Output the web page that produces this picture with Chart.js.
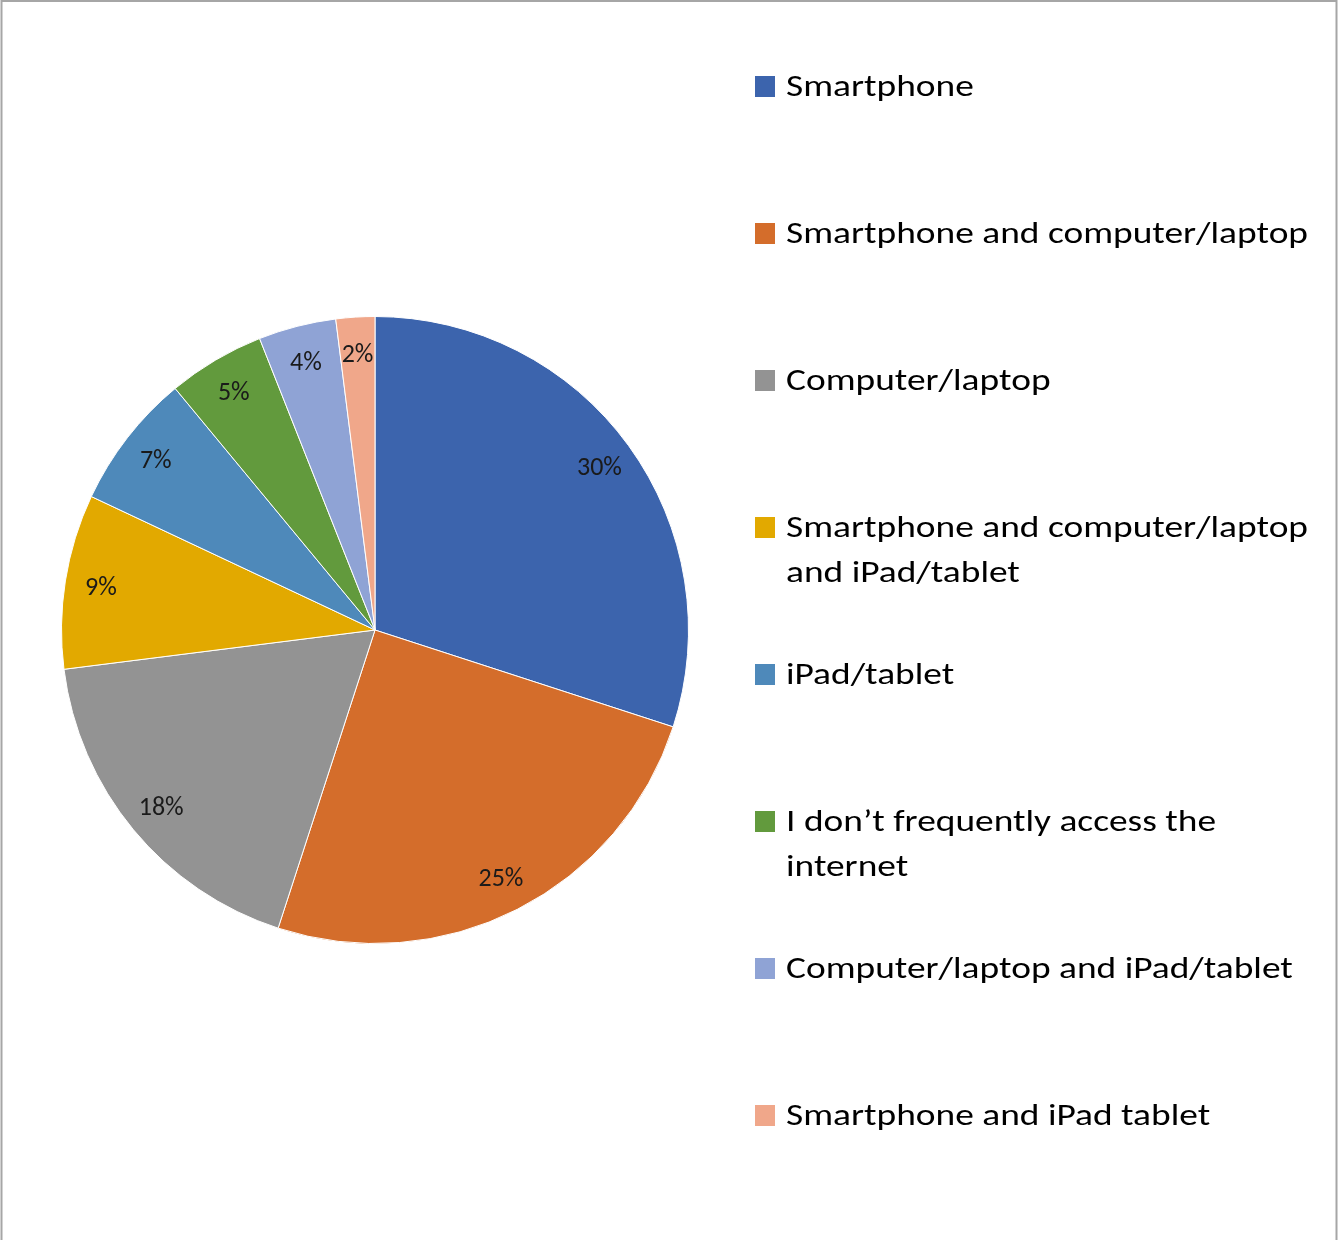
<!DOCTYPE html>
<html>
<head>
<meta charset="utf-8">
<script src="https://cdn.jsdelivr.net/npm/chart.js@4"></script>
<style>
  html, body { margin: 0; padding: 0; background: #fff; }
  #wrap { width: 1338px; height: 1240px; position: relative; }
</style>
</head>
<body>
<div id="wrap"><canvas id="chart" width="1338" height="1240"></canvas></div>
<script>
const labels = [
  "Smartphone",
  "Smartphone and computer/laptop",
  "Computer/laptop",
  "Smartphone and computer/laptop and iPad/tablet",
  "iPad/tablet",
  "I don\u2019t frequently access the internet",
  "Computer/laptop and iPad/tablet",
  "Smartphone and iPad tablet",
];
// legend lines as they wrap in the picture
const legendLines = [
  ["Smartphone"],
  ["Smartphone and computer/laptop"],
  ["Computer/laptop"],
  ["Smartphone and computer/laptop", "and iPad/tablet"],
  ["iPad/tablet"],
  ["I don\u2019t frequently access the", "internet"],
  ["Computer/laptop and iPad/tablet"],
  ["Smartphone and iPad tablet"],
];
const values = [30, 25, 18, 9, 7, 5, 4, 2];
const colors = ["#3c64ad", "#d46d2b", "#939393", "#e2a900", "#4e89ba", "#629a3d", "#8fa3d5", "#f0a78a"];

const FONT = "Carlito, Calibri, Lato, 'Open Sans', sans-serif";

const frame = {
  id: "frame",
  beforeDraw(chart) {
    const c = chart.ctx;
    c.save();
    c.fillStyle = "#fff";
    c.fillRect(0, 0, chart.width, chart.height);
    c.strokeStyle = "#a6a6a6";
    c.lineWidth = 2;
    c.beginPath();
    c.moveTo(1.5, 1240);
    c.lineTo(1.5, 1);
    c.lineTo(1336.5, 1);
    c.lineTo(1336.5, 1240);
    c.stroke();
    c.restore();
  },
};

const sliceLabels = {
  id: "sliceLabels",
  afterDatasetsDraw(chart) {
    const c = chart.ctx;
    const meta = chart.getDatasetMeta(0);
    c.save();
    c.font = "26px " + FONT;
    c.fillStyle = "#1a1a1a";
    c.textAlign = "center";
    c.textBaseline = "middle";
    meta.data.forEach((arc, i) => {
      const p = arc.getProps(["x", "y", "startAngle", "endAngle", "outerRadius"], true);
      const mid = (p.startAngle + p.endAngle) / 2;
      const r = p.outerRadius * 0.885;
      c.fillText(values[i] + "%", p.x + Math.cos(mid) * r, p.y + Math.sin(mid) * r + 2);
    });
    c.restore();
  },
};

const sideLegend = {
  id: "sideLegend",
  afterDraw(chart) {
    const c = chart.ctx;
    c.save();
    c.font = "31px " + FONT;
    // fit the longest line to the width seen in the picture
    const w = c.measureText("Smartphone and computer/laptop").width;
    const sx = 522 / w;
    c.textBaseline = "middle";
    legendLines.forEach((lines, i) => {
      const y = 86 + i * 147;
      c.fillStyle = colors[i];
      c.fillRect(755, y - 10, 20, 21);
      c.fillStyle = "#000";
      lines.forEach((t, j) => {
        c.save();
        c.translate(786, y + 2 + j * 45);
        c.scale(sx, 1);
        c.fillText(t, 0, 0);
        c.restore();
      });
    });
    c.restore();
  },
};

new Chart(document.getElementById("chart"), {
  type: "pie",
  data: {
    labels,
    datasets: [{
      data: values,
      backgroundColor: colors,
      borderColor: "#ffffff",
      borderWidth: 1,
    }],
  },
  options: {
    responsive: false,
    animation: false,
    layout: { padding: { left: 61, right: 649, top: 316, bottom: 296 } },
    plugins: {
      legend: { display: false },
      tooltip: { enabled: false },
    },
  },
  plugins: [frame, sliceLabels, sideLegend],
});
</script>
</body>
</html>
